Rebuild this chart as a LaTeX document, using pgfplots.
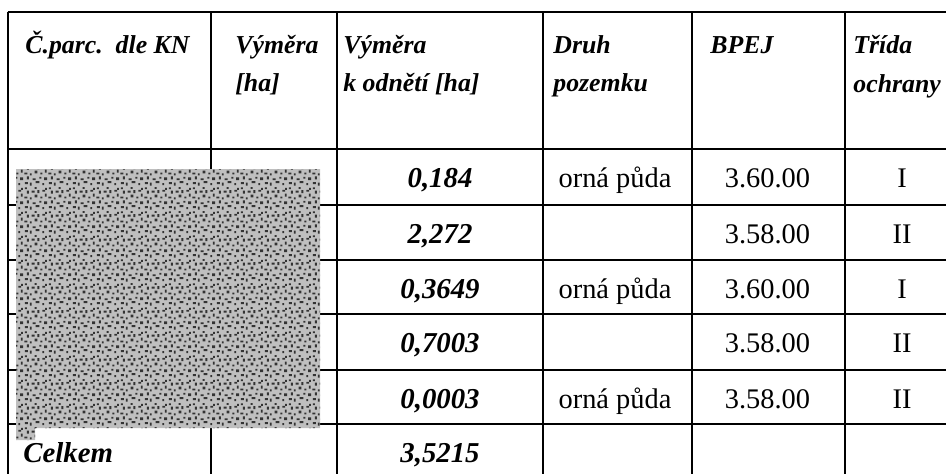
\documentclass[border=0pt]{standalone}
\usepackage{fontspec}
\setmainfont{Liberation Serif}
\usepackage{pgfplots}
\pgfplotsset{compat=1.18}
\usetikzlibrary{patterns}
\pgfdeclarepatternformonly{grain}{\pgfpointorigin}{\pgfqpoint{12pt}{12pt}}{\pgfqpoint{12pt}{12pt}}{%
  \pgfpathrectangle{\pgfqpoint{0.5pt}{1pt}}{\pgfqpoint{1.5pt}{1pt}}%
  \pgfpathrectangle{\pgfqpoint{3pt}{0.2pt}}{\pgfqpoint{1pt}{1.5pt}}%
  \pgfpathrectangle{\pgfqpoint{6pt}{1.5pt}}{\pgfqpoint{2pt}{1pt}}%
  \pgfpathrectangle{\pgfqpoint{9.5pt}{0.5pt}}{\pgfqpoint{1pt}{1pt}}%
  \pgfpathrectangle{\pgfqpoint{1.5pt}{3.5pt}}{\pgfqpoint{1pt}{1.5pt}}%
  \pgfpathrectangle{\pgfqpoint{4.5pt}{3pt}}{\pgfqpoint{1.5pt}{1pt}}%
  \pgfpathrectangle{\pgfqpoint{8pt}{3.8pt}}{\pgfqpoint{1pt}{1pt}}%
  \pgfpathrectangle{\pgfqpoint{10.5pt}{3pt}}{\pgfqpoint{1.5pt}{1.5pt}}%
  \pgfpathrectangle{\pgfqpoint{0.2pt}{6pt}}{\pgfqpoint{1.5pt}{1pt}}%
  \pgfpathrectangle{\pgfqpoint{3pt}{5.5pt}}{\pgfqpoint{1pt}{1pt}}%
  \pgfpathrectangle{\pgfqpoint{5.5pt}{6.5pt}}{\pgfqpoint{1.5pt}{1.5pt}}%
  \pgfpathrectangle{\pgfqpoint{8.5pt}{6pt}}{\pgfqpoint{1pt}{1pt}}%
  \pgfpathrectangle{\pgfqpoint{10.8pt}{7pt}}{\pgfqpoint{1pt}{1.5pt}}%
  \pgfpathrectangle{\pgfqpoint{1.5pt}{8.5pt}}{\pgfqpoint{1pt}{1.5pt}}%
  \pgfpathrectangle{\pgfqpoint{4pt}{9pt}}{\pgfqpoint{1.5pt}{1pt}}%
  \pgfpathrectangle{\pgfqpoint{7pt}{8.8pt}}{\pgfqpoint{1pt}{1.5pt}}%
  \pgfpathrectangle{\pgfqpoint{9.5pt}{9.5pt}}{\pgfqpoint{1.5pt}{1pt}}%
  \pgfpathrectangle{\pgfqpoint{0.5pt}{10.8pt}}{\pgfqpoint{1pt}{1pt}}%
  \pgfpathrectangle{\pgfqpoint{5.5pt}{11pt}}{\pgfqpoint{1pt}{0.9pt}}%
  \pgfpathrectangle{\pgfqpoint{11pt}{10.5pt}}{\pgfqpoint{0.9pt}{1pt}}%
  \pgfusepath{fill}}
\newcommand{\hd}{\fontsize{12.9}{14}\selectfont\bfseries\itshape}
\newcommand{\bd}{\fontsize{14.2}{16}\selectfont}
\newcommand{\bbi}{\fontsize{14.4}{16}\selectfont\bfseries\itshape}
\begin{document}
\begin{tikzpicture}
\begin{axis}[x=0.5pt, y=0.5pt, y dir=reverse, xmin=0, xmax=946, ymin=0, ymax=473,
  hide axis, clip=false, scale only axis]
% vertical lines
\addplot[black, line width=1.1pt] coordinates {(8,11.5) (8,480)};
\addplot[black, line width=1.1pt] coordinates {(211,11.5) (211,480)};
\addplot[black, line width=1.1pt] coordinates {(337,11.5) (337,480)};
\addplot[black, line width=1.1pt] coordinates {(543,11.5) (543,480)};
\addplot[black, line width=1.1pt] coordinates {(692,11.5) (692,480)};
\addplot[black, line width=1.1pt] coordinates {(845,11.5) (845,480)};
% horizontal lines
\addplot[black, line width=1.1pt] coordinates {(7.5,12) (960,12)};
\addplot[black, line width=1.1pt] coordinates {(7.5,149) (960,149)};
\addplot[black, line width=1.1pt] coordinates {(7.5,205) (960,205)};
\addplot[black, line width=1.1pt] coordinates {(7.5,260) (960,260)};
\addplot[black, line width=1.1pt] coordinates {(7.5,314) (960,314)};
\addplot[black, line width=1.1pt] coordinates {(7.5,370) (960,370)};
\addplot[black, line width=1.1pt] coordinates {(7.5,424) (960,424)};
% noise image area
\addplot[draw=none, fill=black!25, postaction={pattern=grain, pattern color=black!80}]
  coordinates {(16,169) (320,169) (320,428) (35,428) (35,440) (16,440)} --cycle;
% header
\node[anchor=base west, inner sep=0] at (axis cs:25,53) {\hd Č.parc.\ \ dle KN};
\node[anchor=base west, inner sep=0] at (axis cs:235,53) {\hd Výměra};
\node[anchor=base west, inner sep=0] at (axis cs:235,91) {\hd [ha]};
\node[anchor=base west, inner sep=0] at (axis cs:343,53) {\hd Výměra};
\node[anchor=base west, inner sep=0] at (axis cs:343,91) {\hd k odnětí [ha]};
\node[anchor=base west, inner sep=0] at (axis cs:553,53) {\hd Druh};
\node[anchor=base west, inner sep=0] at (axis cs:553,91) {\hd pozemku};
\node[anchor=base west, inner sep=0] at (axis cs:710,53) {\hd BPEJ};
\node[anchor=base west, inner sep=0] at (axis cs:853,53) {\hd Třída};
\node[anchor=base west, inner sep=0] at (axis cs:853,92) {\hd ochrany};
% body
\node[anchor=base, inner sep=0] at (axis cs:440,187) {\bbi 0,184};
\node[anchor=base, inner sep=0] at (axis cs:440,243) {\bbi 2,272};
\node[anchor=base, inner sep=0] at (axis cs:440,298) {\bbi 0,3649};
\node[anchor=base, inner sep=0] at (axis cs:440,352) {\bbi 0,7003};
\node[anchor=base, inner sep=0] at (axis cs:440,408) {\bbi 0,0003};
\node[anchor=base, inner sep=0] at (axis cs:440,462) {\bbi 3,5215};
\node[anchor=base west, inner sep=0] at (axis cs:23,462) {\bbi Celkem};
\node[anchor=base, inner sep=0] at (axis cs:615,187) {\bd orná půda};
\node[anchor=base, inner sep=0] at (axis cs:615,298) {\bd orná půda};
\node[anchor=base, inner sep=0] at (axis cs:615,408) {\bd orná půda};
\node[anchor=base, inner sep=0] at (axis cs:767.5,187) {\bd 3.60.00};
\node[anchor=base, inner sep=0] at (axis cs:767.5,243) {\bd 3.58.00};
\node[anchor=base, inner sep=0] at (axis cs:767.5,298) {\bd 3.60.00};
\node[anchor=base, inner sep=0] at (axis cs:767.5,352) {\bd 3.58.00};
\node[anchor=base, inner sep=0] at (axis cs:767.5,408) {\bd 3.58.00};
\node[anchor=base, inner sep=0] at (axis cs:902,187) {\bd I};
\node[anchor=base, inner sep=0] at (axis cs:902,243) {\bd II};
\node[anchor=base, inner sep=0] at (axis cs:902,298) {\bd I};
\node[anchor=base, inner sep=0] at (axis cs:902,352) {\bd II};
\node[anchor=base, inner sep=0] at (axis cs:902,408) {\bd II};
\coordinate (tl) at (axis cs:0,0);
\coordinate (br) at (axis cs:946,473);
\end{axis}
\pgfresetboundingbox
\path[use as bounding box] (tl) rectangle (br);
\end{tikzpicture}
\end{document}
